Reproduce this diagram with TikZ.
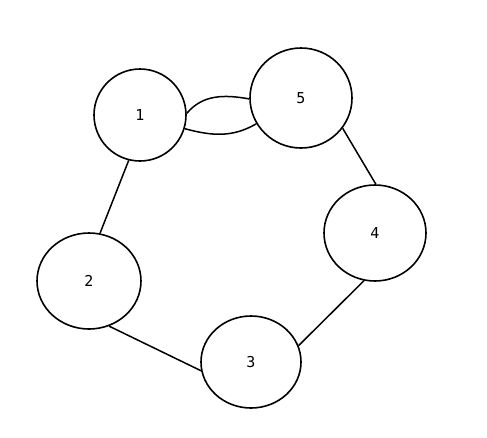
\documentclass[tikz,border=0pt]{standalone}
\usepackage{fontspec}
\setmonofont{DejaVu Sans Mono}
\usepackage{tikz}
\usetikzlibrary{shapes.geometric}
\newcommand{\tikzlabelfont}{\ttfamily\fontsize{15}{15}\selectfont}
\tikzstyle{ringnode}=[draw=black,ellipse,line width=1.6pt,inner sep=0pt,font=\tikzlabelfont]
\tikzstyle{ringedge}=[draw=black,line width=1.5pt]

\begin{document}
\begin{tikzpicture}[x=1pt,y=-1pt]
  \useasboundingbox (0,0) rectangle (487,437);
  % vertices
  \node[ringnode, minimum width=92pt, minimum height=92pt] (v1) at (140,115) {1};
  \node[ringnode, minimum width=104pt, minimum height=96pt] (v2) at (89,281) {2};
  \node[ringnode, minimum width=100pt, minimum height=92pt] (v3) at (251,362) {3};
  \node[ringnode, minimum width=102pt, minimum height=96pt] (v4) at (375,233) {4};
  \node[ringnode, minimum width=102pt, minimum height=100pt] (v5) at (301,98) {5};
  % edges
  \path[ringedge] (v1.-104) -- (v2.77);
  \path[ringedge] (v2.-66) -- (v3.190);
  \path[ringedge] (v3.19) -- (v4.-103);
  \path[ringedge] (v4.89) -- (v5.-36);
  \path[ringedge] (v1.2) to[out=50,in=170] (v5.181);
  \path[ringedge] (v1.-17) to[out=-15,in=210] (v5.210);
\end{tikzpicture}
\end{document}
